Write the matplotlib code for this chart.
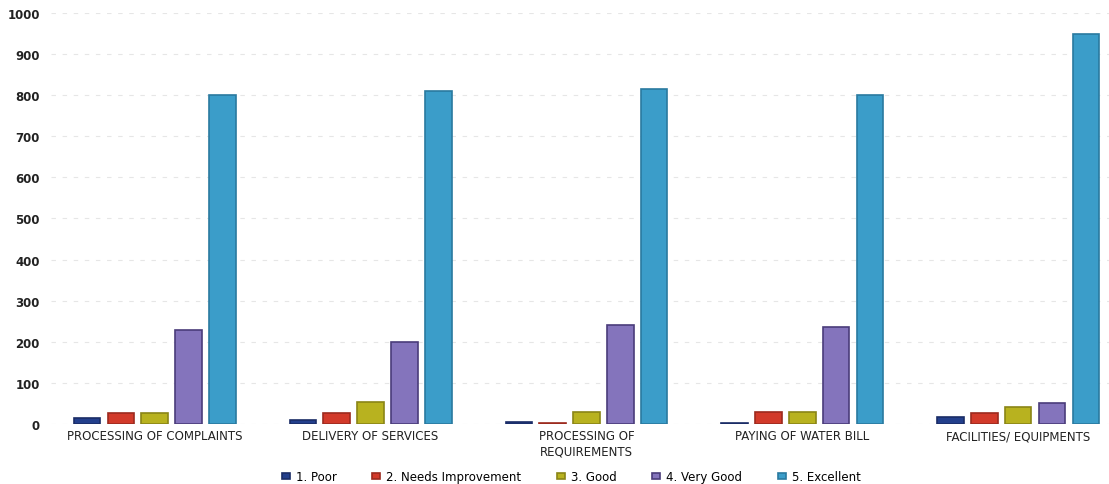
import matplotlib.pyplot as plt
import numpy as np

categories = ['PROCESSING OF COMPLAINTS', 'DELIVERY OF SERVICES',
              'PROCESSING OF\nREQUIREMENTS', 'PAYING OF WATER BILL',
              'FACILITIES/ EQUIPMENTS']
series_names = ['1. Poor', '2. Needs Improvement', '3. Good', '4. Very Good', '5. Excellent']

poor = [14, 10, 5, 2, 16]
needs_improvement = [26, 26, 3, 28, 26]
good = [27, 52, 30, 28, 42]
very_good = [228, 200, 240, 235, 50]
excellent = [800, 810, 815, 800, 950]

series = [poor, needs_improvement, good, very_good, excellent]
colors = ['#233f8c', '#d23a2a', '#b8b21f', '#8474bc', '#3b9dc9']
edges = ['#1a2c66', '#9c2a1e', '#8a8516', '#4a3c7a', '#2a7aa0']

plt.rcParams['font.family'] = ['DejaVu Sans']

fig = plt.figure(figsize=(11.09, 4.85), dpi=100)
ax = fig.add_axes([0.046, 0.124, 0.954, 0.847])

x = np.arange(len(categories))
pitch = 0.157
width = 0.122

for i, (vals, name) in enumerate(zip(series, series_names)):
    ax.bar(x + (i - 2) * pitch, vals, width, color=colors[i], edgecolor=edges[i],
           linewidth=1.2, label=name, zorder=3)

ax.set_ylim(0, 1000)
ax.set_xlim(-0.48, 4.42)
ax.set_yticks(np.arange(0, 1001, 100))
ax.set_xticks(x)
ax.set_xticklabels(categories, fontsize=8.5, color='#222222')
ax.tick_params(axis='y', labelsize=8.5, colors='#222222', length=0, pad=8)
ax.tick_params(axis='x', length=0, pad=4)
for lab in ax.get_yticklabels():
    lab.set_fontweight('bold')

ax.grid(axis='y', color='#e6e6e6', linestyle=(0, (4, 6)), linewidth=0.8, zorder=0)
for s in ax.spines.values():
    s.set_visible(False)

fig.legend(loc='lower center', bbox_to_anchor=(0.515, -0.02), ncol=5, frameon=False,
           fontsize=8.5, handlelength=0.7, handleheight=0.5, columnspacing=3.0,
           handletextpad=0.5)

plt.savefig('out.png', dpi=100)
